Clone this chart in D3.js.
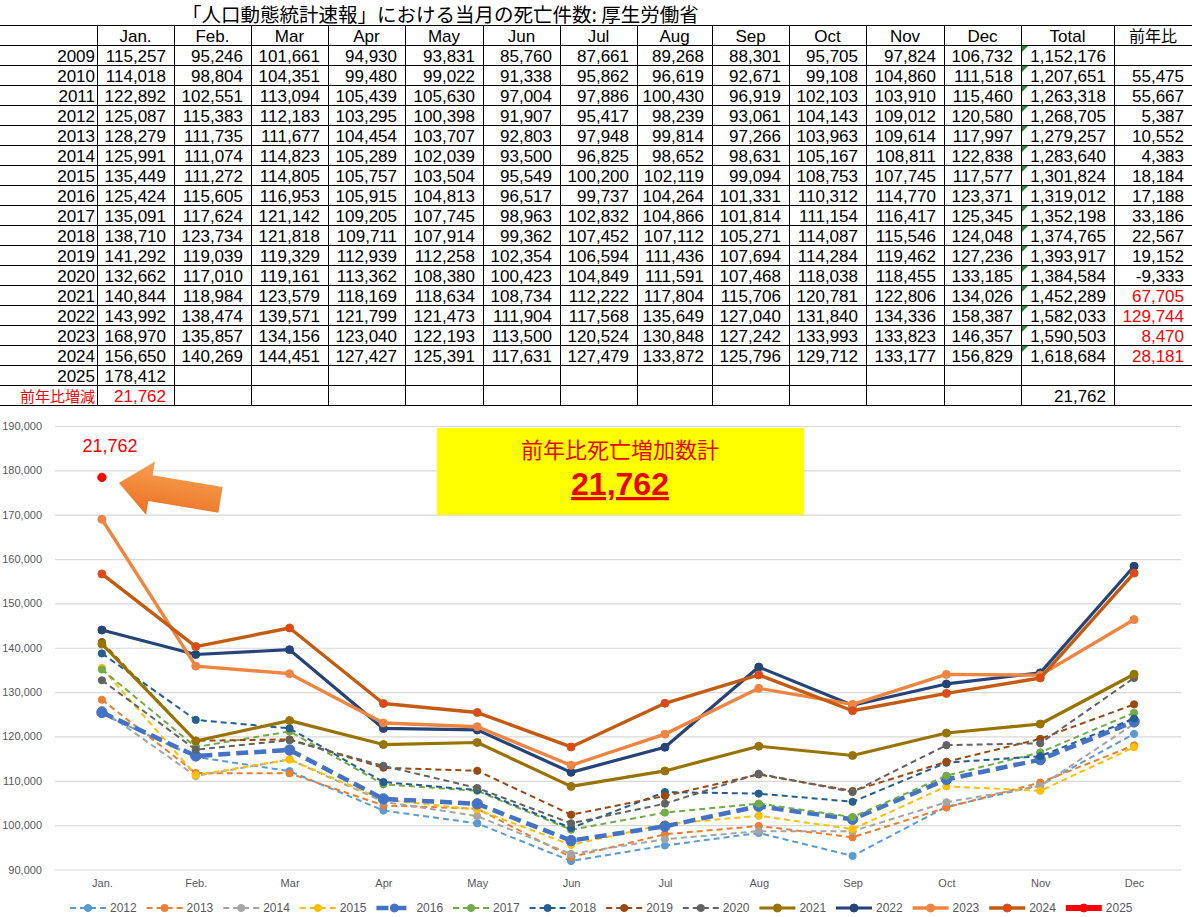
<!DOCTYPE html>
<html>
<head>
<meta charset="utf-8">
<script src="https://cdn.jsdelivr.net/npm/d3@7"></script>
<style>
  body { margin: 0; background: #fff; }
</style>
</head>
<body>
<div id="canvas"></div>
<script>
/* global d3 */

const months = ['Jan.', 'Feb.', 'Mar', 'Apr', 'May', 'Jun', 'Jul', 'Aug', 'Sep', 'Oct', 'Nov', 'Dec']

const d2009 = [115257, 95246, 101661, 94930, 93831, 85760, 87661, 89268, 88301, 95705, 97824, 106732]
const d2010 = [114018, 98804, 104351, 99480, 99022, 91338, 95862, 96619, 92671, 99108, 104860, 111518]
const d2011 = [122892, 102551, 113094, 105439, 105630, 97004, 97886, 100430, 96919, 102103, 103910, 115460]
const d2012 = [125087, 115383, 112183, 103295, 100398, 91907, 95417, 98239, 93061, 104143, 109012, 120580]
const d2013 = [128279, 111735, 111677, 104454, 103707, 92803, 97948, 99814, 97266, 103963, 109614, 117997]
const d2014 = [125991, 111074, 114823, 105289, 102039, 93500, 96825, 98652, 98631, 105167, 108811, 122838]
const d2015 = [135449, 111272, 114805, 105757, 103504, 95549, 100200, 102119, 99094, 108753, 107745, 117577]
const d2016 = [125424, 115605, 116953, 105915, 104813, 96517, 99737, 104264, 101331, 110312, 114770, 123371]
const d2017 = [135091, 117624, 121142, 109205, 107745, 98963, 102832, 104866, 101814, 111154, 116417, 125345]
const d2018 = [138710, 123734, 121818, 109711, 107914, 99362, 107452, 107112, 105271, 114087, 115546, 124048]
const d2019 = [141292, 119039, 119329, 112939, 112258, 102354, 106594, 111436, 107694, 114284, 119462, 127236]
const d2020 = [132662, 117010, 119161, 113362, 108380, 100423, 104849, 111591, 107468, 118038, 118455, 133185]
const d2021 = [140844, 118984, 123579, 118169, 118634, 108734, 112222, 117804, 115706, 120781, 122806, 134026]
const d2022 = [143992, 138474, 139571, 121799, 121473, 111904, 117568, 135649, 127040, 131840, 134336, 158387]
const d2023 = [168970, 135857, 134156, 123040, 122193, 113500, 120524, 130848, 127242, 133993, 133823, 146357]
const d2024 = [156650, 140269, 144451, 127427, 125391, 117631, 127479, 133872, 125796, 129712, 133177, 156829]
const d2025 = [178412]

const tableYears = [2009, 2010, 2011, 2012, 2013, 2014, 2015, 2016, 2017, 2018, 2019, 2020, 2021, 2022, 2023, 2024]
const tableRows = [d2009, d2010, d2011, d2012, d2013, d2014, d2015, d2016, d2017, d2018, d2019, d2020, d2021, d2022, d2023, d2024]
const totals = [1152176, 1207651, 1263318, 1268705, 1279257, 1283640, 1301824, 1319012, 1352198, 1374765, 1393917, 1384584, 1452289, 1582033, 1590503, 1618684]
const yoy = [null, 55475, 55667, 5387, 10552, 4383, 18184, 17188, 33186, 22567, 19152, -9333, 67705, 129744, 8470, 28181]
const redYoYYears = [2021, 2022, 2023, 2024]

const diff2025 = [21762]
const diffTotal = 21762

const chartYears = [2012, 2013, 2014, 2015, 2016, 2017, 2018, 2019, 2020, 2021, 2022, 2023, 2024, 2025]
const chartSeries = [d2012, d2013, d2014, d2015, d2016, d2017, d2018, d2019, d2020, d2021, d2022, d2023, d2024, d2025]
const yTicks = [90000, 100000, 110000, 120000, 130000, 140000, 150000, 160000, 170000, 180000, 190000]

// line styles per chart year
const styles = {
  2012: {color: '#5b9bd5', w: 2, dash: '6,4', r: 3.6},
  2013: {color: '#ed7d31', w: 2, dash: '6,4', r: 3.6},
  2014: {color: '#a5a5a5', w: 2, dash: '6,4', r: 3.6},
  2015: {color: '#ffc000', w: 2, dash: '6,4', r: 3.6},
  2016: {color: '#4472c4', w: 4.5, dash: '12,6', r: 5.2},
  2017: {color: '#70ad47', w: 2, dash: '6,4', r: 3.6},
  2018: {color: '#255e91', w: 2, dash: '6,4', r: 3.6},
  2019: {color: '#9e480e', w: 2, dash: '6,4', r: 3.6},
  2020: {color: '#636363', w: 2, dash: '6,4', r: 3.6},
  2021: {color: '#997300', w: 3.2, dash: null, r: 4},
  2022: {color: '#264478', w: 3.2, dash: null, r: 4},
  2023: {color: '#ef8540', w: 3.4, dash: null, r: 4},
  2024: {color: '#c55a11', w: 3.4, dash: null, r: 4, mark: '#e4461c'},
  2025: {color: '#ff0000', w: 6, dash: null, r: 4.2}
}

const W = 1192, H = 917
const svg = d3.select('#canvas').append('svg')
  .attr('width', W)
  .attr('height', H)
  .style('display', 'block')

const fmt = v => d3.format(',')(v).replace('\u2212', '-')
const latin = 'Liberation Sans, Arial, sans-serif'
const cjk = '"Noto Sans CJK JP", sans-serif'

// ---------- table ----------
const colX = [0, 97, 174, 251, 328, 405, 483, 560, 637, 712, 789, 866, 944, 1021, 1114, 1192]
const rowH = 20
const tableTop = 25
const nRows = 19

svg.append('text')
  .text('「人口動態統計速報」における当月の死亡件数: 厚生労働省')
  .attr('x', 182)
  .attr('y', 22)
  .attr('font-family', cjk)
  .attr('font-size', '19.5px')
  .attr('fill', '#000')

const grid = svg.append('g').attr('stroke', '#000').attr('stroke-width', 1).attr('shape-rendering', 'crispEdges')
d3.range(nRows + 1).forEach(i => {
  grid.append('line')
    .attr('x1', 0).attr('x2', W)
    .attr('y1', tableTop + i * rowH + 0.5).attr('y2', tableTop + i * rowH + 0.5)
})
colX.slice(1).forEach(cx => {
  grid.append('line')
    .attr('x1', cx + 0.5).attr('x2', cx + 0.5)
    .attr('y1', tableTop).attr('y2', tableTop + nRows * rowH)
})

const cellText = (row, col, txt, opts = {}) => {
  const align = opts.align || 'right'
  const x0 = colX[col], x1 = colX[col + 1]
  let x = x1 - 8, anchor = 'end'
  if (align === 'center') { x = (x0 + x1) / 2; anchor = 'middle' }
  if (col === 0 && align === 'right') x = x1 - 2
  svg.append('text')
    .text(txt)
    .attr('x', x)
    .attr('y', tableTop + row * rowH + 17)
    .attr('text-anchor', anchor)
    .attr('font-family', opts.font || latin)
    .attr('font-size', opts.size || '17px')
    .attr('fill', opts.color || '#000')
}

// header
months.forEach((m, i) => cellText(0, i + 1, m, {align: 'center'}))
cellText(0, 13, 'Total', {align: 'center'})
cellText(0, 14, '前年比', {align: 'center', font: cjk, size: '16px'})

tableYears.forEach((yr, r) => {
  const row = r + 1
  cellText(row, 0, yr)
  tableRows[r].forEach((v, c) => cellText(row, c + 1, fmt(v)))
  cellText(row, 13, fmt(totals[r]))
  if (yoy[r] !== null) {
    cellText(row, 14, fmt(yoy[r]), {color: redYoYYears.includes(yr) ? '#ff0000' : '#000'})
  }
  // excel green error marker
  const tx = colX[13] + 1, ty = tableTop + row * rowH + 1
  svg.append('path')
    .attr('d', `M${tx},${ty}L${tx + 6},${ty}L${tx},${ty + 6}Z`)
    .attr('fill', '#1a8a2a')
})

cellText(17, 0, 2025)
d2025.forEach((v, c) => cellText(17, c + 1, fmt(v)))
cellText(18, 0, '前年比増減', {font: cjk, size: '15px', color: '#ff0000'})
diff2025.forEach((v, c) => cellText(18, c + 1, fmt(v), {color: '#ff0000'}))
cellText(18, 13, fmt(diffTotal))

// ---------- chart ----------
const plotLeft = 55, plotRight = 1181
const x = d3.scalePoint()
  .domain(months)
  .range([plotLeft, plotRight])
  .padding(0.5)

const y = d3.scaleLinear()
  .domain([90000, 190000])
  .range([869.5, 426])

const yAxis = svg.append('g')
  .attr('transform', `translate(${plotLeft},0)`)
  .call(d3.axisLeft(y).tickValues(yTicks).tickSize(-(plotRight - plotLeft)).tickPadding(13).tickFormat(fmt))
yAxis.select('.domain').remove()
yAxis.selectAll('line').attr('stroke', '#d9d9d9').attr('stroke-width', 1.2)
yAxis.selectAll('text')
  .attr('fill', '#595959')
  .attr('font-family', latin)
  .attr('font-size', '11px')

const xAxis = svg.append('g')
  .attr('transform', `translate(0,${y(90000)})`)
  .call(d3.axisBottom(x).tickSize(0).tickPadding(10))
xAxis.select('.domain').remove()
xAxis.selectAll('text')
  .attr('fill', '#595959')
  .attr('font-family', latin)
  .attr('font-size', '11px')

const line = d3.line()
  .x((d, i) => x(months[i]))
  .y(d => y(d))

chartYears.forEach((yr, k) => {
  const st = styles[yr]
  const vals = chartSeries[k]
  const g = svg.append('g')
  if (vals.length > 1) {
    g.append('path')
      .datum(vals)
      .attr('d', line)
      .attr('fill', 'none')
      .attr('stroke', st.color)
      .attr('stroke-width', st.w)
      .attr('stroke-dasharray', st.dash)
      .attr('stroke-linejoin', 'round')
  }
  g.selectAll('circle')
    .data(vals)
    .enter()
    .append('circle')
    .attr('cx', (d, i) => x(months[i]))
    .attr('cy', d => y(d))
    .attr('r', st.r)
    .attr('fill', st.mark || st.color)
    .attr('stroke', st.color)
    .attr('stroke-width', 1)
})

// 2025 label + arrow
const px = x(months[0]), py = y(d2025[0])
svg.append('text')
  .text(fmt(diff2025[0]))
  .attr('x', px + 8)
  .attr('y', py - 25)
  .attr('text-anchor', 'middle')
  .attr('font-family', latin)
  .attr('font-size', '18px')
  .attr('fill', '#ff0000')

const defs = svg.append('defs')
const grad = defs.append('linearGradient').attr('id', 'arrowGrad')
  .attr('x1', 0).attr('y1', 0).attr('x2', 0).attr('y2', 1)
grad.append('stop').attr('offset', '0%').attr('stop-color', '#f6a053')
grad.append('stop').attr('offset', '100%').attr('stop-color', '#ec7020')

svg.append('path')
  .attr('d', 'M0,0L32,-27L32,-13L103,-13L103,13L32,13L32,27Z')
  .attr('transform', `translate(${px + 17},${py + 5.5}) rotate(9.5)`)
  .attr('fill', 'url(#arrowGrad)')

// yellow summary box
svg.append('rect')
  .attr('x', 437).attr('y', 428)
  .attr('width', 367).attr('height', 87)
  .attr('fill', '#ffff00')
svg.append('text')
  .text('前年比死亡増加数計')
  .attr('x', 620).attr('y', 458)
  .attr('text-anchor', 'middle')
  .attr('font-family', cjk)
  .attr('font-size', '22px')
  .attr('fill', '#ee0000')
svg.append('text')
  .text(fmt(diffTotal))
  .attr('x', 620).attr('y', 495)
  .attr('text-anchor', 'middle')
  .attr('font-family', latin)
  .attr('font-size', '32px')
  .attr('font-weight', 'bold')
  .attr('text-decoration', 'underline')
  .attr('fill', '#ee0000')

// legend
const legend = svg.append('g').attr('transform', 'translate(0,908)')
chartYears.forEach((yr, k) => {
  const st = styles[yr]
  const x0 = 70 + k * 76.6
  const it = legend.append('g').attr('transform', `translate(${x0},0)`)
  it.append('line')
    .attr('x1', 0).attr('x2', 36)
    .attr('stroke', st.color)
    .attr('stroke-width', st.w)
    .attr('stroke-dasharray', st.dash)
  it.append('circle')
    .attr('cx', 18).attr('r', Math.min(st.r, 4))
    .attr('fill', st.mark || st.color)
    .attr('stroke', st.color)
  it.append('text')
    .text(yr)
    .attr('x', 40)
    .attr('y', 4)
    .attr('font-family', 'Liberation Sans Narrow, Arial Narrow, sans-serif')
    .attr('font-size', '12px')
    .attr('fill', '#595959')
})
</script>
</body>
</html>
